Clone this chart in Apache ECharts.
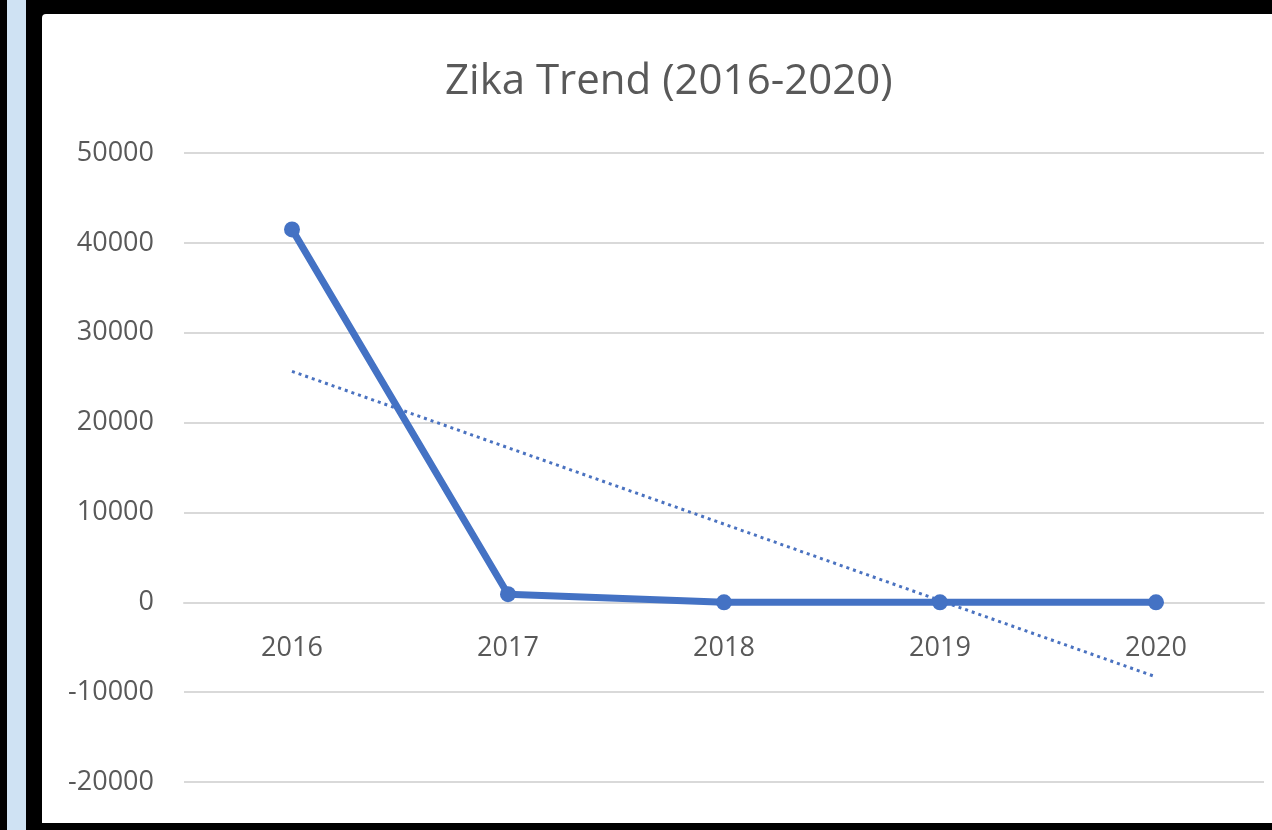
<!DOCTYPE html>
<html>
<head>
<meta charset="utf-8">
<script src="https://cdn.jsdelivr.net/npm/echarts@6/dist/echarts.min.js"></script>
<style>
  html, body { margin: 0; padding: 0; background: #000; width: 1272px; height: 830px; overflow: hidden; }
  #strip { position: absolute; left: 7px; top: 0; width: 19px; height: 830px; background: #cfe2f3; border-radius: 0 0 0 0; }
  #panel { position: absolute; left: 42px; top: 14px; width: 1230px; height: 809px; background: #fff; border-top-left-radius: 4px; }
  #chart { position: absolute; left: 0; top: 0; width: 1272px; height: 830px; }
</style>
</head>
<body>
<div id="strip"></div>
<div id="panel"></div>
<div id="chart"></div>
<script>
const categories = ["2016", "2017", "2018", "2019", "2020"];
const cases = [41500, 900, 0, 0, 0];
// dotted linear trendline, endpoints
const trend = [25700, null, null, null, -8300];
const yTicks = { min: -20000, max: 50000, interval: 10000 };
const titleText = "Zika Trend (2016-2020)";

const chart = echarts.init(document.getElementById('chart'), null, { renderer: 'canvas' });
const txt = '#595959';
// place the category axis on the zero line
const gridTop = 153, gridBottom = 48, gridH = 830 - gridTop - gridBottom;
const zeroOffset = gridH * (0 - yTicks.min) / (yTicks.max - yTicks.min);
chart.setOption({
  backgroundColor: 'transparent',
  animation: false,
  title: {
    text: titleText,
    left: 440, top: 56,
    textStyle: { fontFamily: 'Open Sans', fontWeight: 'normal', fontSize: 42, color: txt }
  },
  grid: { left: 184, right: 8, top: gridTop, bottom: gridBottom, containLabel: false, outerBoundsMode: 'none' },
  xAxis: {
    type: 'category',
    data: categories,
    boundaryGap: true,
    offset: -zeroOffset,
    axisLine: { show: true, onZero: false, lineStyle: { color: '#d9d9d9', width: 2 } },
    axisTick: { show: false },
    axisLabel: { color: txt, fontFamily: 'Open Sans', fontSize: 27, margin: 33 }
  },
  yAxis: {
    type: 'value',
    min: yTicks.min, max: yTicks.max, interval: yTicks.interval,
    axisLine: { show: false },
    axisTick: { show: false },
    axisLabel: { color: txt, fontFamily: 'Open Sans', fontSize: 27, margin: 30, formatter: v => String(v) },
    splitLine: { lineStyle: { color: '#d9d9d9', width: 2 } }
  },
  series: [
    {
      type: 'line',
      data: trend,
      connectNulls: true,
      symbol: 'none',
      lineStyle: { color: '#4a72c0', width: 3, type: [3, 4] },
      z: 2
    },
    {
      type: 'line',
      data: cases,
      symbol: 'circle',
      symbolSize: 16,
      itemStyle: { color: '#4472C4' },
      lineStyle: { color: '#4472C4', width: 7 },
      z: 3
    }
  ]
});
</script>
</body>
</html>
